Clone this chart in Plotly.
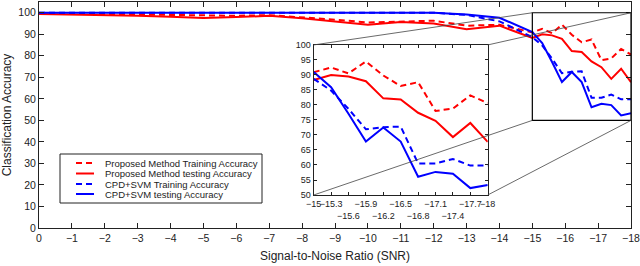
import plotly.graph_objects as go

# ---------------- data ----------------
snr = [0, -1, -2, -3, -4, -5, -6, -7, -8, -9, -10, -11, -12, -13, -14,
       -15, -15.3, -15.6, -15.9, -16.2, -16.5, -16.8, -17.1, -17.4, -17.7, -18]

prop_train = [99.8, 99.6, 99.4, 99.2, 99.0, 98.6, 98.6, 98.9, 98.0, 96.8, 95.5, 96.0, 96.3, 94.0, 94.4,
              90.9, 92.5, 90.5, 94.5, 89.8, 86.3, 87.6, 78.0, 78.8, 83.2, 80.6]
prop_test = [99.4, 99.2, 99.0, 98.6, 98.2, 97.6, 98.0, 98.6, 97.5, 96.0, 94.4, 95.7, 95.0, 92.4, 94.0,
             88.3, 90.0, 89.5, 87.9, 82.2, 81.8, 77.4, 74.7, 69.3, 74.0, 67.7]
cpd_train = [100, 100, 100, 100, 100, 100, 100, 100, 100, 100, 100, 100, 100, 99.0, 96.0,
             88.7, 84.8, 78.7, 71.9, 72.6, 72.8, 60.5, 60.5, 62.0, 59.8, 59.8]
cpd_test = [100, 100, 100, 100, 100, 100, 100, 100, 100, 100, 100, 100, 100, 99.2, 97.7,
            91.0, 85.9, 77.1, 67.8, 72.5, 67.8, 56.1, 57.7, 57.1, 52.3, 53.3]

names = ["Proposed Method Training Accuracy", "Proposed Method testing Accuracy",
         "CPD+SVM Training Accuracy", "CPD+SVM testing Accuracy"]

main_xtick = list(range(0, -19, -1))
main_ytick = list(range(0, 101, 10))
inset_xtick = [-15, -15.3, -15.6, -15.9, -16.2, -16.5, -16.8, -17.1, -17.4, -17.7, -18]
inset_xtext = ["−15", "−15.3", "<br>−15.6", "−15.9", "<br>−16.2", "−16.5", "<br>−16.8",
               "−17.1", "<br>−17.4", "−17.7", "−18"]
inset_ytick = list(range(50, 101, 5))

# ---------------- layout params ----------------
W, H = 640, 266
ML, MR, MT, MB = 39, 9, 2, 38
PW, PH = W - ML - MR, H - MT - MB
X_RANGE = [0, -18]
Y_RANGE = [0, 105]
ZX = [-15, -18]
ZY = [50, 100]
INSET_DX = [0.464, 0.758]
INSET_DY = [0.146, 0.81]

RED = "rgb(255,0,0)"
BLUE = "rgb(0,0,255)"
styles = [(RED, "6px,4px"), (RED, "solid"), (BLUE, "6px,4px"), (BLUE, "solid")]
series = [prop_train, prop_test, cpd_train, cpd_test]

fig = go.Figure()
for name, ys, (col, dash) in zip(names, series, styles):
    fig.add_trace(go.Scatter(x=snr, y=ys, mode="lines", name=name, showlegend=False,
                             line=dict(color=col, width=2, dash=dash),
                             xaxis="x", yaxis="y"))
for name, ys, (col, dash) in zip(names, series, styles):
    xs = [x for x in snr if x <= ZX[0]]
    yy = [y for x, y in zip(snr, ys) if x <= ZX[0]]
    fig.add_trace(go.Scatter(x=xs, y=yy, mode="lines", name=name, showlegend=False,
                             line=dict(color=col, width=2, dash=dash),
                             xaxis="x2", yaxis="y2"))


def px(v):
    return (v - X_RANGE[0]) / (X_RANGE[1] - X_RANGE[0])


def py(v):
    return (v - Y_RANGE[0]) / (Y_RANGE[1] - Y_RANGE[0])


def pix_x(p):
    return (p - ML) / PW


def pix_y(p):
    return (H - MB - p) / PH


shapes = [
    dict(type="rect", xref="x", yref="y", x0=ZX[0], x1=ZX[1], y0=ZY[0], y1=ZY[1],
         line=dict(color="black", width=1.2), layer="above"),
    dict(type="line", xref="paper", yref="paper", x0=INSET_DX[0], y0=INSET_DY[1],
         x1=px(ZX[0]), y1=py(ZY[1]), line=dict(color="#444", width=0.8)),
    dict(type="line", xref="paper", yref="paper", x0=INSET_DX[1], y0=INSET_DY[1],
         x1=px(ZX[1]), y1=py(ZY[1]), line=dict(color="#444", width=0.8)),
    dict(type="line", xref="paper", yref="paper", x0=INSET_DX[0], y0=INSET_DY[0],
         x1=px(ZX[0]), y1=py(ZY[0]), line=dict(color="#444", width=0.8)),
    dict(type="line", xref="paper", yref="paper", x0=INSET_DX[1], y0=INSET_DY[0],
         x1=px(ZX[1]), y1=py(ZY[0]), line=dict(color="#444", width=0.8)),
    dict(type="rect", xref="paper", yref="paper", x0=INSET_DX[0], x1=INSET_DX[1],
         y0=INSET_DY[0], y1=INSET_DY[1], fillcolor="white", line=dict(width=0), layer="below"),
]

FONT = "Liberation Sans, Arial, sans-serif"

# manual compact legend (box + keys + labels)
LEG_BOX = (60, 154, 262, 203)
LEG_ROWS = [163, 173.5, 184, 194]
KEY_X = (76, 94)
TXT_X = 104
shapes.append(dict(type="rect", xref="paper", yref="paper",
                   x0=pix_x(LEG_BOX[0]), x1=pix_x(LEG_BOX[2]),
                   y0=pix_y(LEG_BOX[3]), y1=pix_y(LEG_BOX[1]),
                   fillcolor="white", line=dict(color="#222", width=1), layer="above"))
annotations = []
for name, (col, dash), ry in zip(names, styles, LEG_ROWS):
    shapes.append(dict(type="line", xref="paper", yref="paper",
                       x0=pix_x(KEY_X[0]), x1=pix_x(KEY_X[1]), y0=pix_y(ry), y1=pix_y(ry),
                       line=dict(color=col, width=2, dash=dash), layer="above"))
    annotations.append(dict(text=name, xref="paper", yref="paper", x=pix_x(TXT_X), y=pix_y(ry),
                            xanchor="left", yanchor="middle", showarrow=False, borderpad=0,
                            font=dict(family=FONT, size=9.5, color="#222")))

axis_common = dict(showgrid=False, zeroline=False, showline=True, linecolor="#222", linewidth=1,
                   mirror="ticks", ticks="inside", tickcolor="#222", ticklen=5, automargin=False,
                   ticklabeloverflow="allow",
                   tickfont=dict(family=FONT, size=10.5, color="#222"))
inset_common = {**axis_common, "tickfont": dict(family=FONT, size=9, color="#222"), "ticklen": 3}

fig.update_layout(
    width=W, height=H,
    margin=dict(l=ML, r=MR, t=MT, b=MB),
    paper_bgcolor="white", plot_bgcolor="white",
    font=dict(family=FONT, size=11, color="#222"),
    xaxis=dict(range=X_RANGE, tickvals=main_xtick, domain=[0, 1], tickangle=0,
               title=dict(text="Signal-to-Noise Ratio (SNR)", font=dict(size=12), standoff=9),
               **axis_common),
    yaxis=dict(range=Y_RANGE, tickvals=main_ytick, domain=[0, 1],
               title=dict(text="Classification Accuracy", font=dict(size=12), standoff=4),
               **axis_common),
    xaxis2=dict(range=ZX, tickvals=inset_xtick, ticktext=inset_xtext, domain=INSET_DX,
                anchor="y2", tickangle=0, **inset_common),
    yaxis2=dict(range=ZY, tickvals=inset_ytick, domain=INSET_DY, anchor="x2", **inset_common),
    shapes=shapes,
    annotations=annotations,
    showlegend=False,
)

fig.write_html("out.html", config={"displayModeBar": False},
               post_script="document.body.style.margin='0';document.body.style.padding='0';")
